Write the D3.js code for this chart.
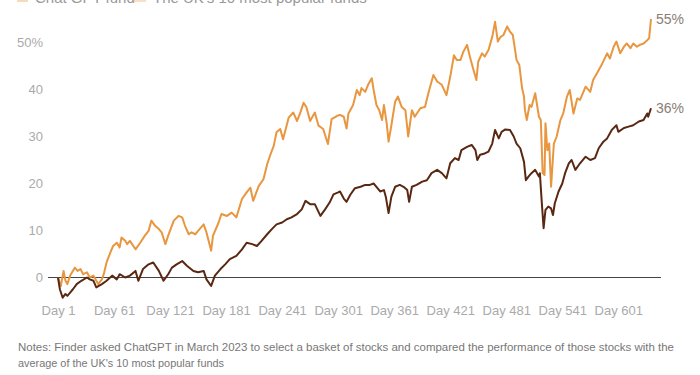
<!DOCTYPE html>
<html>
<head>
<meta charset="utf-8">
<script src="https://cdn.jsdelivr.net/npm/d3@7"></script>
<style>
  body { margin: 0; background: #fff; }
  svg { display: block; }
  text { font-family: "Liberation Sans Narrow", "Liberation Sans", sans-serif; }
</style>
</head>
<body>
<svg id="chart" width="700" height="375"></svg>
<script>
// day index + cumulative return (%)
var gptDays = [1,4,7,9,11,14,19,22,25,28,32,35,39,42,44,48,50,53,57,60,
  64,67,69,73,75,78,84,89,94,98,101,105,109,112,116,119,125,130,134,137,
  141,144,148,151,157,160,165,167,173,176,182,187,192,198,203,207,210,216,221,225,
  228,232,235,239,242,248,253,257,260,264,267,271,276,280,285,290,294,300,303,307,
  310,312,317,321,324,326,330,333,337,339,342,345,348,350,353,355,358,362,365,369,
  373,376,380,383,389,394,398,403,407,412,417,421,425,428,432,435,439,442,446,449,
  451,455,458,462,466,469,472,475,478,482,485,488,491,492,495,498,500,501,503,506,
  508,512,516,518,520,522,523,525,527,529,532,535,539,542,546,549,553,557,560,566,
  571,574,578,583,589,592,596,599,603,607,610,614,617,621,624,628,632,634,636];
var gptValues = [0,-1.8,1.4,-0.7,-1.4,0.4,2.1,1.4,1.8,0.7,1.1,0,0.4,-0.7,-1.4,-0.4,0.7,3.2,5.3,6.7,
  7.4,6.4,8.5,7.8,7.1,7.8,6.0,7.4,8.9,9.9,12.1,11,10.3,9.6,7.1,8.9,12.1,13.1,12.8,11,
  9.2,9.6,9.2,9.9,11.3,9.6,5.7,8.9,11.7,13.5,13.1,13.8,12.8,16.7,18.1,19.1,16.3,19.5,20.9,24.1,
  25.9,28,30.9,31.6,29.4,34,35.1,33.3,34.8,37.2,36.2,33.3,35.1,32.3,31.6,28.4,33.7,34.4,34.6,34.2,
  31.7,34.9,36.7,39.9,38.8,40.3,39.5,41,42.4,39.9,36.7,35.6,33.5,36.7,32.8,28.9,32.4,37.4,38.5,36.3,
  35.6,30,35.6,34.2,36,36.3,39.5,43.1,41.7,41,38.8,42.7,47.3,46.3,46.3,48,49.5,47,44.1,42,
  45.9,47.7,47,48.4,51.2,54.4,50.2,51.2,51.6,53.4,52.3,51.6,47.7,46.3,45.2,40.2,38.5,35.6,33.5,36.7,
  36.3,39.2,34.2,33.5,22.2,21.8,32.8,27.1,28.5,19.3,28.5,30,33.5,34.9,38.5,39.9,34.9,38.1,37.8,40.6,
  39.5,42,43.4,45.2,47.7,46.6,49.1,50.2,47.7,49.1,49.8,48.8,49.8,49.1,49.5,49.8,50.5,50.9,55];

var fundDays = [1,3,6,9,11,14,17,21,26,32,35,39,42,48,53,59,64,67,73,78,
  84,87,92,98,103,109,114,119,123,128,134,139,146,151,157,160,165,169,175,180,
  185,192,198,203,209,214,219,225,230,235,241,246,251,257,262,266,271,276,282,287,
  292,296,301,303,307,310,314,319,325,330,335,339,342,346,350,352,355,358,362,367,
  371,375,377,380,385,391,396,401,407,412,417,421,426,430,433,439,444,448,450,453,
  458,462,466,469,473,476,480,485,489,492,496,500,502,505,508,512,516,517,519,521,
  523,526,529,531,533,537,541,544,548,551,555,560,566,571,576,580,585,589,594,599,
  601,607,612,617,623,628,632,633,636];
var fundValues = [0,-2.5,-4.3,-3.5,-3.9,-3.2,-2.5,-1.4,-0.7,0,-0.4,-0.7,-2.1,-1.4,-0.7,0.4,-0.4,0.7,0,0.4,
  1.4,-0.7,1.8,2.8,3.2,1.4,-0.7,0.7,2.1,2.8,3.5,2.5,1.4,1.1,1.4,-0.4,-1.8,0.4,1.8,2.8,
  3.9,4.6,6,7.4,7.1,6.7,7.8,9.2,10.3,11.3,11.7,12.4,12.8,13.5,14.5,16.3,15.6,15.6,13.1,14.5,
  16,17.7,18.1,18.3,16.8,16.1,17.6,19,19.3,19.7,19.7,20,19.3,18.3,18.6,17.2,13.7,17.2,19.3,19.7,
  19.3,18.6,16.1,19.3,19.7,20.4,20.7,22.2,22.9,22.2,21.1,24.3,25.4,25,27.1,27.8,28.2,27.1,25,26.1,
  26.4,26.8,28.5,31.4,29.6,31,31.5,31.4,30,28.5,27.5,24.6,20.7,21.5,22.2,22.9,21.5,22.2,16.1,10.5,
  14.4,15.1,14.7,13.3,15.8,18.3,20,22.2,24.3,25,22.9,24.3,25.7,25,25.4,27.5,28.9,29.6,31.4,32.4,
  31,31.8,32.1,32.4,33.2,33.5,34.9,34.2,36];

var dayTicks = [1,61,121,181,241,301,361,421,481,541,601];
var yTicks = [0,10,20,30,40,50];
var seriesNames = ["Chat GPT fund", "The UK's 10 most popular funds"];
var endLabels = ["55%", "36%"];
var noteLines = [
  "Notes: Finder asked ChatGPT in March 2023 to select a basket of stocks and compared the performance of those stocks with the",
  "average of the UK's 10 most popular funds"
];

var orange = "#e8963f", brown = "#5a2812";

var svg = d3.select("#chart");

var x = d3.scaleLinear().domain([1, 636]).range([58, 651]);
var y = d3.scaleLinear().domain([0, 55]).range([277.5, 19]);

// legend, mostly cut off at the top of the picture
var legend = svg.append("g").attr("class", "legend");
legend.append("rect").attr("x", 17).attr("y", -8).attr("width", 11).attr("height", 10)
    .attr("fill", orange).attr("opacity", 0.35);
legend.append("text").attr("x", 35).attr("y", 3).attr("fill", "#999")
    .style("font-size", "15px").text(seriesNames[0]);
legend.append("rect").attr("x", 132).attr("y", -8).attr("width", 14).attr("height", 10)
    .attr("fill", orange).attr("opacity", 0.3);
legend.append("text").attr("x", 153).attr("y", 3).attr("fill", "#999")
    .style("font-size", "15px").text(seriesNames[1]);

// y axis labels
var yAxis = svg.append("g")
    .attr("transform", "translate(43,0)")
    .call(d3.axisLeft(y).tickValues(yTicks).tickSize(0).tickPadding(0)
      .tickFormat(function(d) { return d == 50 ? "50%" : d; }));
yAxis.select(".domain").remove();
yAxis.selectAll("text").attr("fill", "#aaa").style("font-size", "13px")
    .style("font-family", "'Liberation Sans Narrow', 'Liberation Sans', sans-serif");

// x axis labels
var xAxis = svg.append("g")
    .attr("transform", "translate(0,306)")
    .call(d3.axisBottom(x).tickValues(dayTicks).tickSize(0).tickPadding(0)
      .tickFormat(function(d) { return "Day " + d; }));
xAxis.select(".domain").remove();
xAxis.selectAll("text").attr("fill", "#aaa").style("font-size", "13px")
    .style("font-family", "'Liberation Sans Narrow', 'Liberation Sans', sans-serif");

// zero line
svg.append("line")
    .attr("x1", 48).attr("x2", 661)
    .attr("y1", y(0)).attr("y2", y(0))
    .attr("stroke", "#444").attr("stroke-width", 1);

var line = d3.line()
    .x(function(d) { return x(d[0]); })
    .y(function(d) { return y(d[1]); });

var gpt = d3.zip(gptDays, gptValues);
var funds = d3.zip(fundDays, fundValues);

svg.append("path").datum(gpt)
    .attr("d", line).attr("fill", "none")
    .attr("stroke", orange).attr("stroke-width", 2).attr("stroke-linejoin", "round");

svg.append("path").datum(funds)
    .attr("d", line).attr("fill", "none")
    .attr("stroke", brown).attr("stroke-width", 2).attr("stroke-linejoin", "round");

// end labels
var lastGpt = gpt[gpt.length - 1], lastFund = funds[funds.length - 1];
svg.append("text").attr("x", x(lastGpt[0]) + 5).attr("y", y(lastGpt[1]) + 5)
    .attr("fill", "#8a7d74").style("font-size", "14px").text(endLabels[0]);
svg.append("text").attr("x", x(lastFund[0]) + 5).attr("y", y(lastFund[1]) + 5)
    .attr("fill", "#8a7d74").style("font-size", "14px").text(endLabels[1]);

// notes, squeezed to the width of the narrow font in the original
var notes = svg.append("text").attr("fill", "#777").style("font-size", "11.3px");
notes.append("tspan").attr("x", 18).attr("y", 351)
    .attr("textLength", 656).attr("lengthAdjust", "spacingAndGlyphs")
    .text(noteLines[0]);
notes.append("tspan").attr("x", 18).attr("y", 367)
    .attr("textLength", 206).attr("lengthAdjust", "spacingAndGlyphs")
    .text(noteLines[1]);
</script>
</body>
</html>
